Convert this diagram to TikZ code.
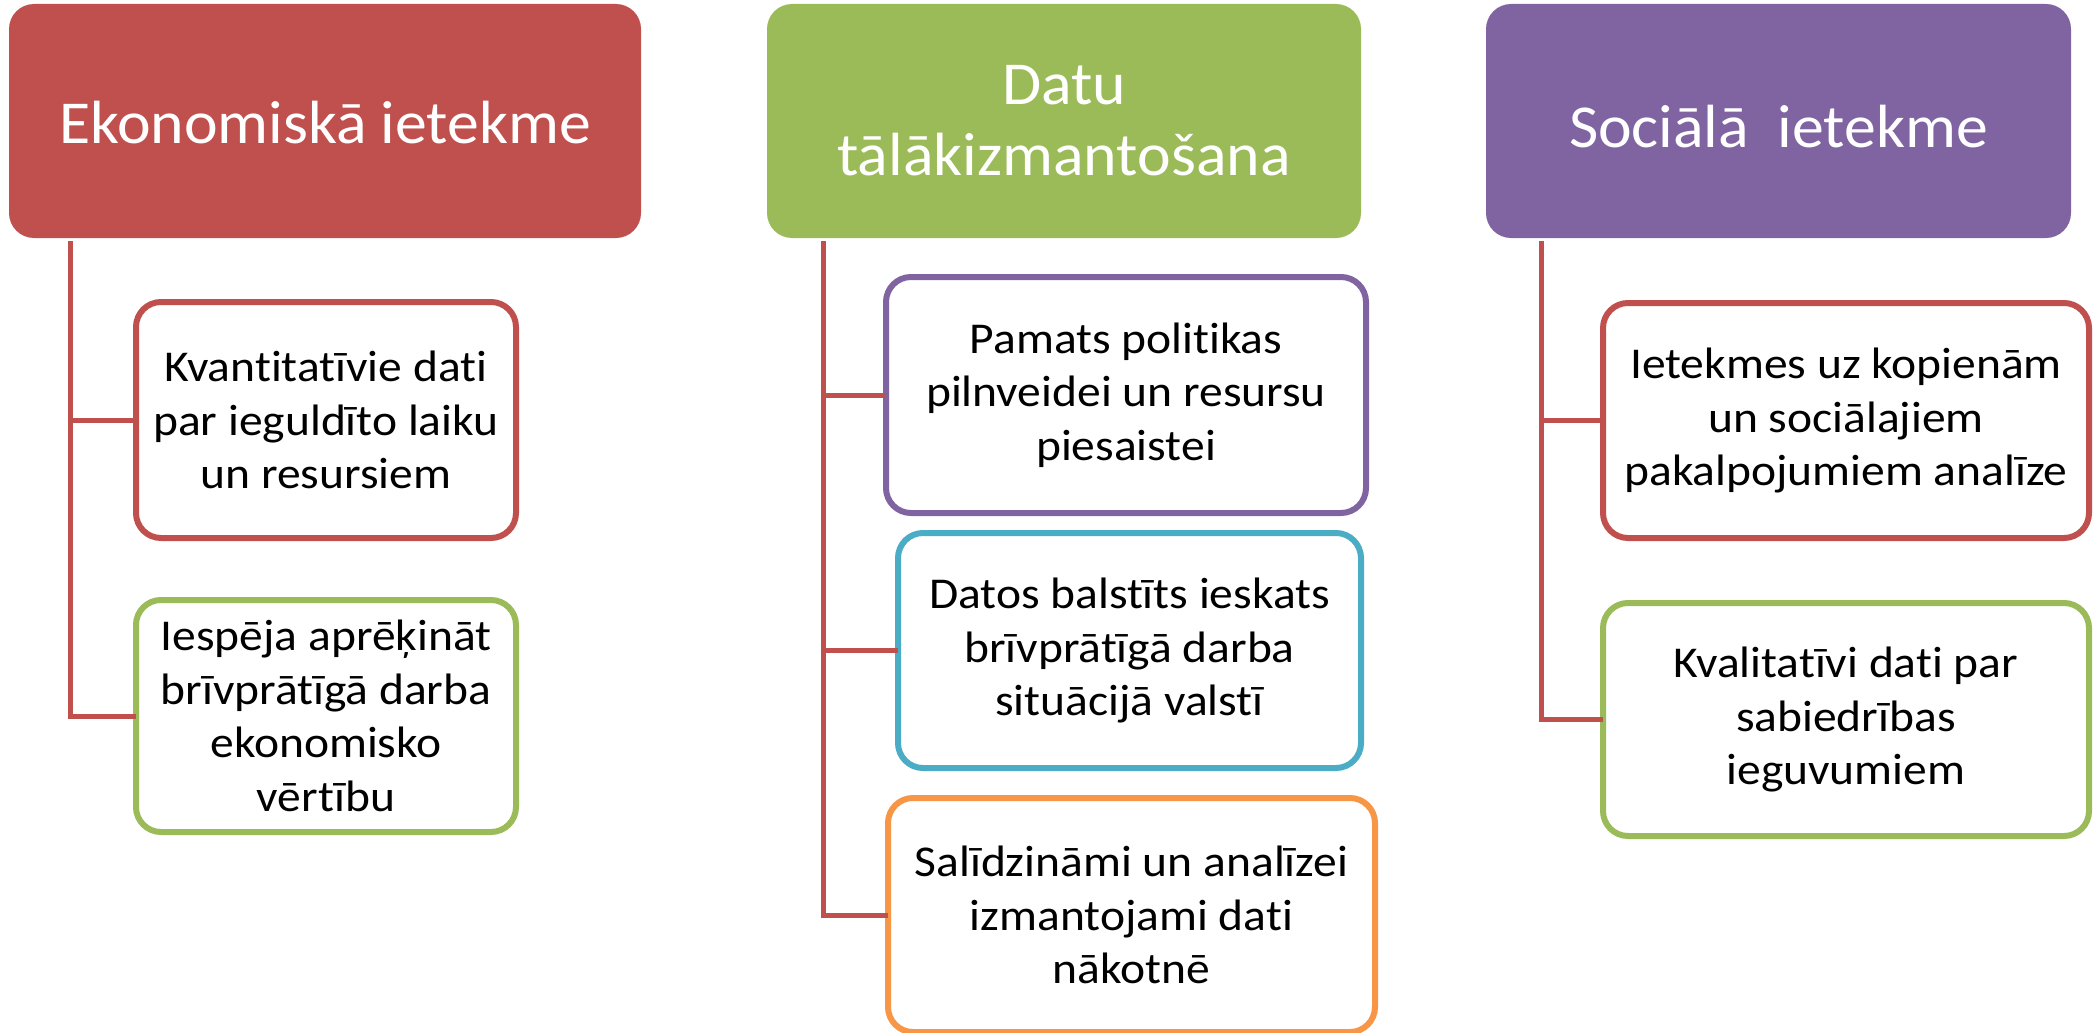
\documentclass[tikz,border=0pt]{standalone}
\usepackage{fontspec}
\setmainfont[Ligatures=NoCommon]{Carlito}
\newfontfamily\headfont[Ligatures=NoCommon, FakeStretch=1.045]{Carlito}
\newfontfamily\itemfont[Ligatures=NoCommon, FakeStretch=1.08]{Carlito}
\usetikzlibrary{positioning}
\definecolor{ekored}{HTML}{C0504D}
\definecolor{datugreen}{HTML}{9BBB59}
\definecolor{socpurple}{HTML}{8064A2}
\definecolor{datublue}{HTML}{4BACC6}
\definecolor{datuorange}{HTML}{F79646}

\begin{document}
\begin{tikzpicture}[x=1pt, y=1pt, outer sep=0pt,
    head/.style = {rounded corners=25pt, text=white, align=center, inner sep=0pt, minimum height=234pt, font=\headfont\fontsize{61}{71}\selectfont},
    item/.style = {draw, line width=6pt, rounded corners=25pt, fill=white, align=center, inner sep=0pt, font=\itemfont\fontsize{44}{53.7}\selectfont},
    conn/.style = {draw=ekored, line width=5pt}]
    \useasboundingbox (0,0) rectangle (2094,-1033);
        % headers
        \node[head, fill=ekored, minimum width=632pt] (eko) at (325,-121) {\raisebox{-2pt}[\height][\depth]{Ekonomiskā ietekme}};
        \node[head, fill=datugreen, minimum width=594pt] (datu) at (1064,-121) {Datu\\tālākizmantošana};
        \node[head, fill=socpurple, minimum width=585pt] (soc) at (1778.5,-121) {\raisebox{-6pt}[\height][\depth]{Sociālā~~ietekme}};
        % economic column
        \node[item, draw=ekored, minimum width=380pt, minimum height=236pt] (eko1) [below right=64pt and 127pt of eko.south west] {Kvantitatīvie dati\\par ieguldīto laiku\\un resursiem};
        \node[item, draw=datugreen, minimum width=380pt, minimum height=232pt] (eko2) [below=62pt of eko1] {Iespēja aprēķināt\\brīvprātīgā darba\\ekonomisko\\vērtību};
        % data column
        \node[item, draw=socpurple, minimum width=480pt, minimum height=236pt] (datu1) [below right=39pt and 119pt of datu.south west] {Pamats politikas\\pilnveidei un resursu\\piesaistei};
        \node[item, draw=datublue, minimum width=463pt, minimum height=235pt] (datu2) [below=20pt of datu1, xshift=3.5pt] {Datos balstīts ieskats\\brīvprātīgā darba\\situācijā valstī};
        \node[item, draw=datuorange, minimum width=487pt, minimum height=234pt] (datu3) [below=30pt of datu2, xshift=2pt] {Salīdzināmi un analīzei\\izmantojami dati\\nākotnē};
        % social column
        \node[item, draw=ekored, minimum width=486pt, minimum height=235pt] (soc1) [below right=65pt and 117pt of soc.south west] {Ietekmes uz kopienām\\un sociālajiem\\pakalpojumiem analīze};
        \node[item, draw=datugreen, minimum width=486pt, minimum height=233pt] (soc2) [below=65pt of soc1] {Kvalitatīvi dati par\\sabiedrības\\ieguvumiem};
        % connectors
        \coordinate (ekotop) at ([xshift=61pt, yshift=-3pt]eko.south west);
        \coordinate (datutop) at ([xshift=56pt, yshift=-3pt]datu.south west);
        \coordinate (soctop) at ([xshift=55pt, yshift=-3pt]soc.south west);
        \draw[conn] (ekotop) |- (eko2.west);
        \draw[conn] (ekotop |- eko1.west) -- (eko1.west);
        \draw[conn] (datutop) |- (datu3.west);
        \draw[conn] (datutop |- datu1.west) -- (datu1.west);
        \draw[conn] (datutop |- datu2.west) -- (datu2.west);
        \draw[conn] (soctop) |- (soc2.west);
        \draw[conn] (soctop |- soc1.west) -- (soc1.west);
    \end{tikzpicture}
\end{document}
